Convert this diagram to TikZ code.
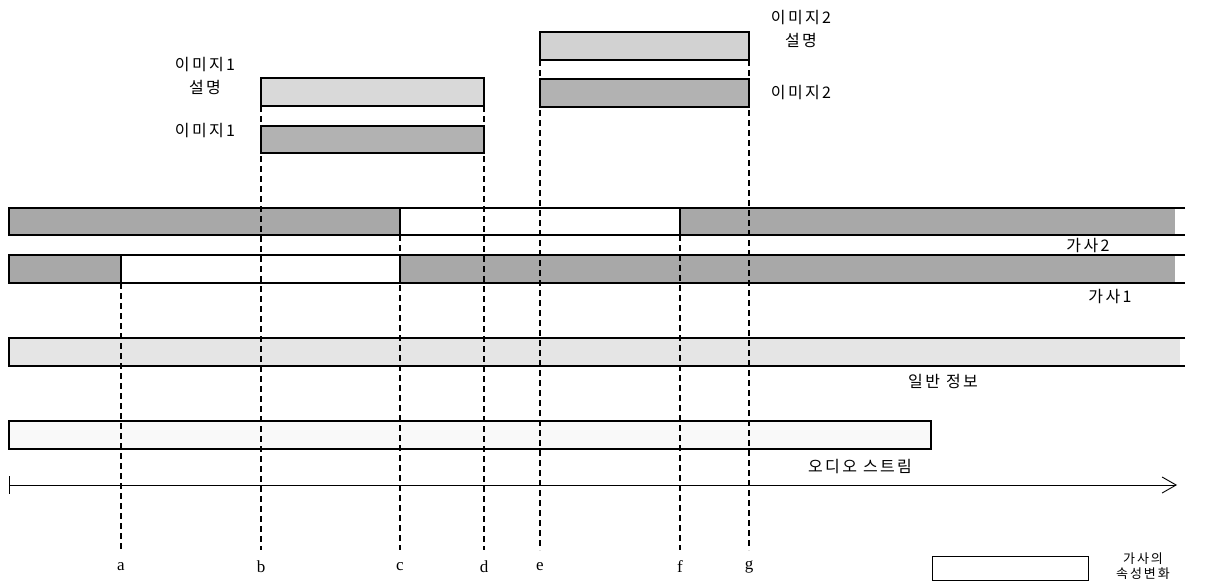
\documentclass[tikz,border=0pt]{standalone}
\usepackage{fontspec}
\usetikzlibrary{arrows.meta}
\setmainfont{Liberation Serif}
\newfontfamily\kor[LetterSpace=15]{Noto Sans CJK KR}
\begin{document}
\begin{tikzpicture}[x=1pt,y=-1pt,
  bar/.style={draw=black,line width=1.6pt},
  guide/.style={line width=1.3pt,dash pattern=on 6pt off 4pt},
  lab/.style={font=\kor\fontsize{16}{23}\selectfont,align=center,inner sep=0pt},
  tick/.style={font=\fontsize{17}{18}\selectfont,inner sep=0pt}]
\useasboundingbox (0,0) rectangle (1218,584);

% lyric 2 (en haut)
\fill[gray!68] (9,208) rectangle (400,235);
\fill[gray!68] (680,208) rectangle (1175,235);
\draw[bar] (1185,208) -- (9,208) -- (9,235) -- (1185,235);
\draw[bar] (400,208) rectangle (680,235);
\node[lab] (lyr2) at (1088,246) {가사2};

% lyric 1
\fill[gray!68] (9,255) rectangle (121,283);
\fill[gray!68] (400,255) rectangle (1175,283);
\draw[bar] (1185,255) -- (9,255) -- (9,283) -- (1185,283);
\draw[bar] (121,255) -- (121,283);
\draw[bar] (400,255) -- (400,283);
\node[lab] (lyr1) at (1110,297) {가사1};

% general info
\fill[gray!20] (9,338) rectangle (1180,366);
\draw[bar] (1185,338) -- (9,338) -- (9,366) -- (1185,366);
\node[lab] (info) at (943,381) {일반 정보};

% audio stream
\filldraw[fill=gray!5,bar] (9,421) rectangle (931,449);
\node[lab] (audio) at (860,467) {오디오 스트림};

% time axis
\coordinate (t0) at (9,485);
\coordinate (t1) at (1177,485);
\draw[line width=0.9pt,-{Straight Barb[length=14pt,width=16pt]}] (t0) -- (t1);
\draw[line width=0.9pt] (9,476) -- (9,494);

% dashed time marks
\foreach \name/\xx/\ytop in {a/121/283, b/261/106, c/400/235, d/484/106, e/540/60, f/680/235, g/749/60}{
  \coordinate (\name top) at (\xx,\ytop);
  \coordinate (\name bot) at (\xx,550);
  \draw[guide] (\name top) -- (\name bot);
  \node[tick] (\name) at (\xx,567) {\name};
}

% images
\filldraw[fill=gray!30,bar] (261,78) rectangle (484,106);
\filldraw[fill=gray!60,bar] (261,126) rectangle (484,153);
\node[lab] (img1d) at (205,76) {이미지1\\설명};
\node[lab] (img1) at (205,131) {이미지1};

\filldraw[fill=gray!35,bar] (540,32) rectangle (749,60);
\filldraw[fill=gray!60,bar] (540,79) rectangle (749,107);
\node[lab] (img2d) at (801,29) {이미지2\\설명};
\node[lab] (img2) at (801,93) {이미지2};

% legend
\draw[line width=1pt] (932,556) rectangle (1088,580);
\node[lab,font=\kor\fontsize{13}{15}\selectfont,anchor=north] (leg) at (1143,553) {가사의\\속성변화};

\end{tikzpicture}
\end{document}
